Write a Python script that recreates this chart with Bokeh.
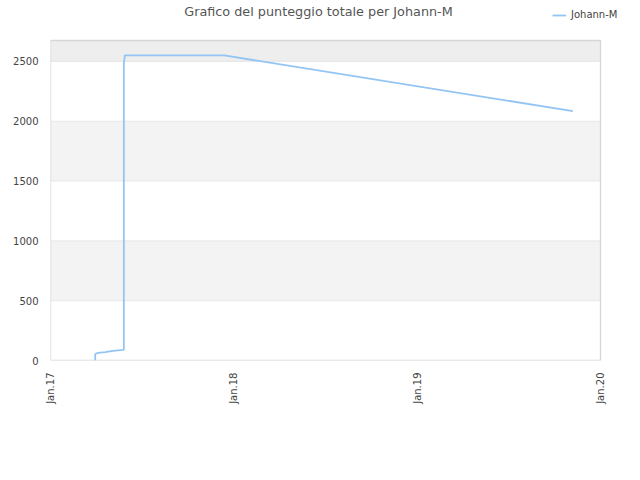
from datetime import datetime
from bokeh.plotting import figure
from bokeh.models import Range1d, DatetimeTickFormatter, FixedTicker, Legend, LegendItem, BoxAnnotation, Label
from bokeh.embed import file_html
from bokeh.resources import INLINE

dates = ["2017-03-31", "2017-03-31", "2017-04-02", "2017-04-10", "2017-04-20", "2017-05-05",
         "2017-05-26", "2017-05-27", "2017-05-27", "2017-05-29", "2017-12-13", "2019-11-07"]
scores = [0, 50, 60, 65, 70, 80, 88, 90, 2480, 2550, 2550, 2085]
series_name = "Johann-M"
title_text = "Grafico del punteggio totale per Johann-M"
x_ticks = ["2017-01-01", "2018-01-01", "2019-01-01", "2020-01-01"]
y_ticks = [0, 500, 1000, 1500, 2000, 2500]
y_max = 2675

xs = [datetime.fromisoformat(d) for d in dates]
xt = [datetime.fromisoformat(d).timestamp() * 1000 for d in x_ticks]

# Frame is extended to the top/right of the canvas so title and legend (drawn inside it) are not clipped;
# the visible plot box is drawn explicitly.
W, H = 624, 464
left_b, bottom_b = 50, 104
box_w, box_h = 550, 320
frame_w, frame_h = W - left_b, H - bottom_b
span = xt[-1] - xt[0]
x_end = xt[0] + span * frame_w / box_w
y_end = y_max * frame_h / box_h

p = figure(width=W, height=H, x_axis_type="datetime", output_backend="svg",
           toolbar_location=None,
           x_range=Range1d(xt[0], x_end), y_range=Range1d(0, y_end),
           min_border_left=left_b, min_border_right=0, min_border_top=0, min_border_bottom=bottom_b)
p.outline_line_color = None
p.xgrid.grid_line_color = None
p.ygrid.grid_line_color = None

# bands
for lo, hi, c in [(500, 1000, "#f3f3f3"), (1500, 2000, "#f3f3f3"), (2500, y_max, "#eeeeee")]:
    p.add_layout(BoxAnnotation(left=xt[0], right=xt[-1], bottom=lo, top=hi, fill_color=c,
                               fill_alpha=1, line_alpha=0, level="underlay"))
# grid lines
for t in y_ticks[1:]:
    p.add_layout(BoxAnnotation(left=xt[0], right=xt[-1], bottom=t, top=t, fill_alpha=0,
                               line_color="#dcdcdc", line_width=1, level="underlay"))

# plot box outline
p.quad(left=[xt[0]], right=[xt[-1]], bottom=[0], top=[y_max], fill_alpha=0,
       line_color="#d6d6d6", line_width=1.3)

r = p.line(xs, scores, line_color="#92c5f3", line_width=1.8)

p.xaxis.ticker = FixedTicker(ticks=xt)
p.xaxis.formatter = DatetimeTickFormatter(years="Jan.%y", months="Jan.%y", days="Jan.%y")
p.xaxis.major_label_orientation = 1.5708
p.yaxis.ticker = FixedTicker(ticks=y_ticks)
for ax in (p.xaxis[0], p.yaxis[0]):
    ax.axis_line_color = None
    ax.major_tick_line_color = None
    ax.minor_tick_line_color = None
    ax.major_label_text_font = "DejaVu Sans"
    ax.major_label_text_font_size = "10px"
    ax.major_label_text_color = "#444444"
    ax.major_label_standoff = 6

p.add_layout(Label(x=268, y=349, x_units="screen", y_units="screen", text=title_text,
                   text_align="center", text_baseline="middle", text_font="DejaVu Sans",
                   text_font_size="12.8px", text_color="#555555"))

legend = Legend(items=[LegendItem(label=series_name, renderers=[r])],
                location=(502, 340), border_line_color=None, background_fill_alpha=0,
                label_text_font="DejaVu Sans", label_text_font_size="10px",
                label_height=10, glyph_height=10, label_text_baseline="middle",
                glyph_width=14, label_standoff=5, padding=0, margin=0)
p.add_layout(legend)

open("out.html", "w").write(file_html(p, INLINE))
